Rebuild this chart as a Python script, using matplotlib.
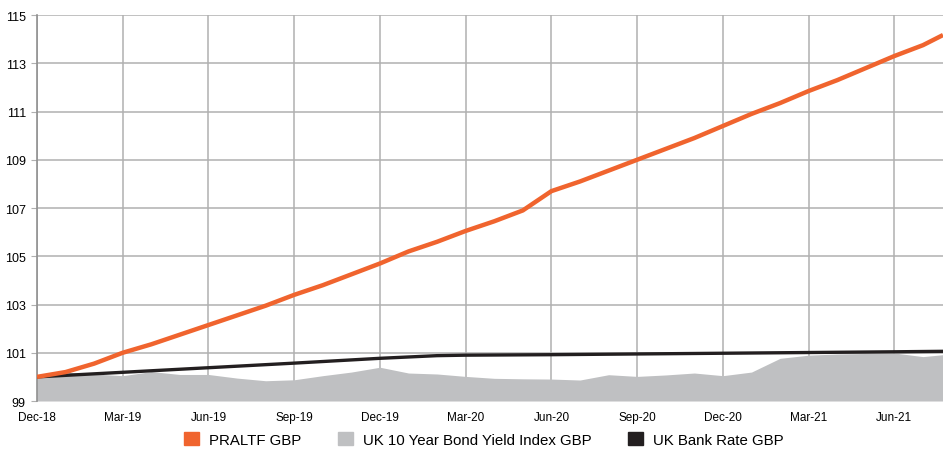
import matplotlib
matplotlib.use("Agg")
import matplotlib.pyplot as plt
from matplotlib.patches import Patch

# months since Dec-18
months = [0, 1, 2, 3, 4, 5, 6, 7, 8, 9, 10, 11, 12, 13, 14, 15, 16,
          17, 18, 19, 20, 21, 22, 23, 24, 25, 26, 27, 28, 29, 30, 31, 31.7]

praltf = [100.00, 100.20, 100.55, 101.00, 101.35, 101.75, 102.15, 102.55,
          102.95, 103.40, 103.80, 104.25, 104.70, 105.20, 105.60, 106.05,
          106.45, 106.90, 107.70, 108.10, 108.55, 109.00, 109.45, 109.90,
          110.40, 110.90, 111.35, 111.85, 112.30, 112.80, 113.30, 113.75,
          114.17]

bond_yield = [100.05, 100.20, 100.12, 100.05, 100.22, 100.10, 100.10, 99.95,
              99.84, 99.88, 100.05, 100.20, 100.40, 100.16, 100.12, 100.02,
              99.94, 99.92, 99.91, 99.87, 100.09, 100.02, 100.08, 100.16,
              100.05, 100.20, 100.77, 100.90, 100.95, 100.97, 100.99, 100.84,
              100.92]

bank_months = [0, 3, 6, 9, 12, 14, 15, 18, 21, 24, 27, 30, 31.7]
bank_rate = [100.00, 100.19, 100.38, 100.57, 100.77, 100.88, 100.90, 100.92,
             100.95, 100.98, 101.01, 101.04, 101.06]

tick_months = [0, 3, 6, 9, 12, 15, 18, 21, 24, 27, 30]
tick_labels = ["Dec-18", "Mar-19", "Jun-19", "Sep-19", "Dec-19", "Mar-20",
               "Jun-20", "Sep-20", "Dec-20", "Mar-21", "Jun-21"]
y_ticks = [99, 101, 103, 105, 107, 109, 111, 113, 115]

plt.rcParams['font.family'] = ['Liberation Sans', 'DejaVu Sans']

orange = '#f0642e'
grey_fill = '#bfc0c2'
black = '#231f20'
grid_col = '#b0b0b0'

fig = plt.figure(figsize=(9.43, 4.52), dpi=100)
ax = fig.add_axes([0.0392, 0.1106, 0.9608, 0.854])

ax.fill_between(months, 99, bond_yield, color=grey_fill, lw=0, zorder=2)
ax.plot(bank_months, bank_rate, color=black, lw=2.4, zorder=3)
ax.plot(months, praltf, color=orange, lw=3.2, zorder=4, solid_capstyle='butt')

ax.set_xlim(0, 31.7)
ax.set_ylim(99, 115)
ax.set_xticks(tick_months)
ax.set_xticklabels(tick_labels)
ax.set_yticks(y_ticks)
ax.grid(True, color=grid_col, lw=1.1, zorder=1)
ax.set_axisbelow(True)

for side in ['top', 'right', 'bottom']:
    ax.spines[side].set_visible(False)
ax.spines['left'].set_color('#909090')
ax.spines['left'].set_linewidth(1.2)

ax.tick_params(axis='y', length=4, color=grid_col, labelsize=9, pad=4)
ax.tick_params(axis='x', length=0, labelsize=8.5, pad=7)

handles = [Patch(color=orange, label='PRALTF GBP'),
           Patch(color=grey_fill, label='UK 10 Year Bond Yield Index GBP'),
           Patch(color=black, label='UK Bank Rate GBP')]
fig.legend(handles=handles, loc='lower center', bbox_to_anchor=(0.513, -0.02),
           ncol=3, frameon=False, handlelength=1.0, handleheight=1.0,
           handletextpad=0.7, columnspacing=2.4,
           prop={'size': 10.8})

fig.savefig('out.png', dpi=100)
